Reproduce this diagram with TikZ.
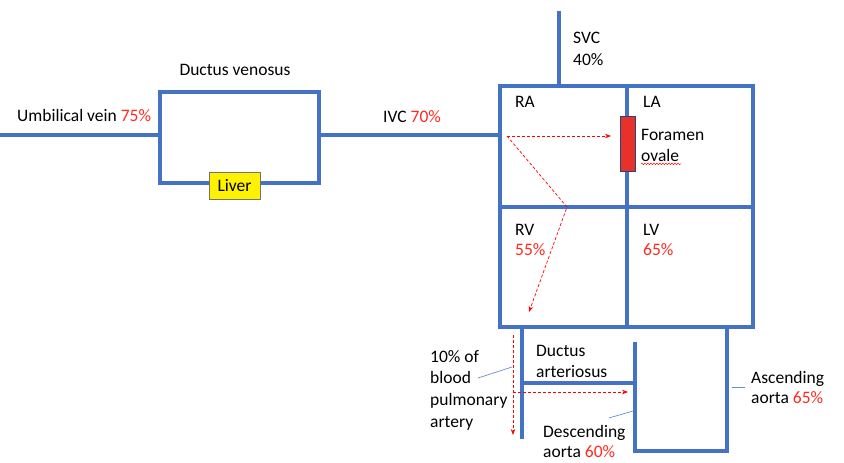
\documentclass[tikz,border=0pt]{standalone}
\usepackage{fontspec}
\setmainfont{Carlito}
\usetikzlibrary{arrows.meta,decorations.pathmorphing}
\definecolor{vesselblue}{HTML}{4472C4}
\definecolor{pctred}{HTML}{FF2A20}
\definecolor{ovalred}{HTML}{E8312A}
\begin{document}
\begin{tikzpicture}[x=1pt,y=-1pt,
 vessel/.style={draw=vesselblue,line width=4pt,line cap=rect},
 lbl/.style={anchor=base west,inner sep=0pt,font=\fontsize{17.5}{21}\selectfont},
 flow/.style={draw=red,dashed,line width=0.7pt,dash pattern=on 3pt off 2pt,-{Stealth[length=6pt,width=4.5pt]}},
 pointer/.style={draw=vesselblue!80,line width=0.7pt}]
\useasboundingbox (0,0) rectangle (844,463);
% vessels
\coordinate (uvL) at (0,135);
\coordinate (uvR) at (160,135);
\coordinate (ivcL) at (319,135);
\coordinate (ivcR) at (500,135);
\draw[vessel] (uvL) -- (uvR);
\draw[vessel] (160,92) rectangle (319,183);
\draw[vessel] (ivcL) -- (ivcR);
% heart
\draw[vessel] (500,86) rectangle (753,327);
\draw[vessel] (627,86) -- (627,327);
\draw[vessel] (500,207) -- (753,207);
\draw[vessel] (559,13) -- (559,86);
% great vessels
\draw[vessel] (522,327) -- (522,437);
\draw[vessel] (522,383) -- (635,383);
\draw[vessel] (635,344) -- (635,451) -- (727,451) -- (727,327);
% liver and foramen
\node[draw=black!55,fill=yellow,minimum width=51pt,minimum height=27pt,inner sep=0pt,font=\fontsize{17.5}{21}\selectfont] (liver) at (234.5,185.5) {Liver};
\node[draw=vesselblue!60!black,fill=ovalred,minimum width=15pt,minimum height=55pt,inner sep=0pt,line width=0.8pt] (fo) at (627.5,143.5) {};
% flow arrows
\coordinate (raS) at (507,136);
\coordinate (raE) at (611,136);
\coordinate (raM) at (567,207);
\coordinate (rvE) at (529,312);
\coordinate (paS) at (513,335);
\coordinate (paE) at (513,435);
\coordinate (daS) at (513,392);
\coordinate (daE) at (628,392);
\draw[flow] (raS) -- (raE);
\draw[flow] (raS) -- (raM) -- (rvE);
\draw[flow] (paS) -- (paE);
\draw[flow] (daS) -- (daE);
% labels
\node[lbl] (uv) at (17,121) {Umbilical vein \textcolor{pctred}{75\%}};
\node[lbl,anchor=base] (dv) at (235,75) {Ductus venosus};
\node[lbl] (ivc) at (383,122) {IVC \textcolor{pctred}{70\%}};
\node[lbl] (svc1) at (573,43) {SVC};
\node[lbl] (svc2) at (573,65) {40\%};
\node[lbl] (ra) at (515,107) {RA};
\node[lbl] (la) at (643,107) {LA};
\node[lbl] (fo1) at (641,140) {Foramen};
\node[lbl] (fo2) at (641,161) {ovale};
\draw[red,line width=0.5pt,decorate,decoration={snake,segment length=3pt,amplitude=0.8pt}] (fo2.south west) ++(0,2.5) -- ++(40,0);
\node[lbl] (rv1) at (515,235) {RV};
\node[lbl,text=pctred] (rv2) at (515,255) {55\%};
\node[lbl] (lv1) at (643,235) {LV};
\node[lbl,text=pctred] (lv2) at (643,255) {65\%};
\node[lbl] (pa1) at (430,362) {10\% of};
\node[lbl] (pa2) at (430,383) {blood};
\node[lbl] (pa3) at (430,405) {pulmonary};
\node[lbl] (pa4) at (430,427) {artery};
\node[lbl] (da1) at (536,356) {Ductus};
\node[lbl] (da2) at (536,377) {arteriosus};
\node[lbl] (de1) at (543,437) {Descending};
\node[lbl] (de2) at (543,457) {aorta \textcolor{pctred}{60\%}};
\node[lbl] (as1) at (751,383) {Ascending};
\node[lbl] (as2) at (751,403) {aorta \textcolor{pctred}{65\%}};
% pointer lines
\coordinate (paP) at (512,367);
\coordinate (deP) at (633,411);
\coordinate (asP) at (732,387);
\draw[pointer] (478,378) -- (paP);
\draw[pointer] (609,418) -- (deP);
\draw[pointer] (745,387) -- (asP);
\end{tikzpicture}
\end{document}
